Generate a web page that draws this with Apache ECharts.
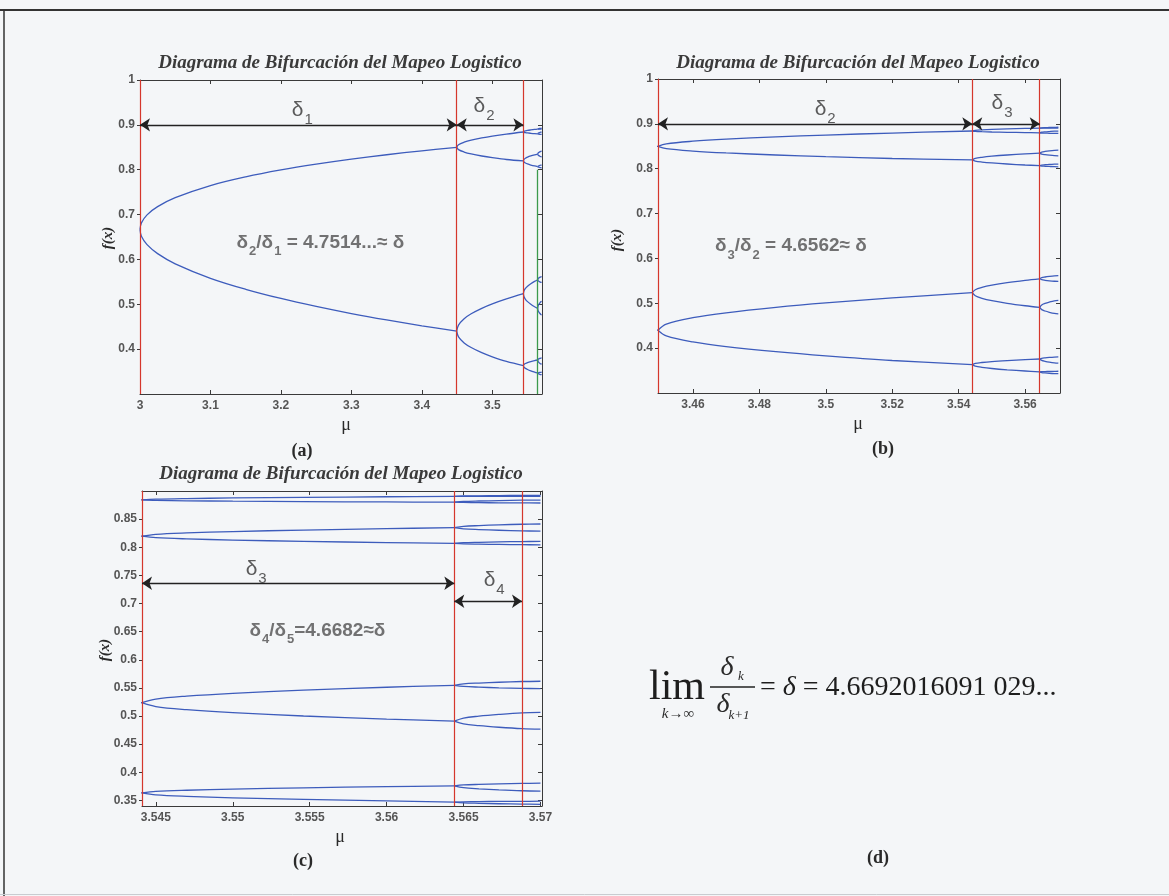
<!DOCTYPE html>
<html>
<head>
<meta charset="utf-8">
<script src="https://cdn.jsdelivr.net/npm/echarts@6/dist/echarts.min.js"></script>
<style>
  html, body { margin: 0; padding: 0; background: #f4f6f8; }
  #chart { width: 1169px; height: 896px; }
</style>
</head>
<body>
<div id="chart"></div>
<script>
// Period-doubling parameters mu_1 ... mu_5 of the logistic map
const muBifurcation = [3.0, 3.4495, 3.5441, 3.5644, 3.5688];

// Stable orbit branches, each as [mu, x] pairs
const period2 = [
  [[3.0,0.6667],[3.002,0.6815],[3.01,0.6994],[3.025,0.7177],[3.05,0.7377],[3.1,0.7646],[3.15,0.7840],[3.2,0.7995],[3.25,0.8124],[3.3,0.8236],[3.35,0.8334],[3.4,0.8421],[3.4495,0.8499]],
  [[3.0,0.6667],[3.002,0.6516],[3.01,0.6329],[3.025,0.6129],[3.05,0.5902],[3.1,0.5580],[3.15,0.5335],[3.2,0.5130],[3.25,0.4953],[3.3,0.4794],[3.35,0.4651],[3.4,0.4520],[3.4495,0.4400]]
];

const period4 = [
  [[3.4495,0.4400],[3.452,0.4273],[3.46,0.4139],[3.47,0.4036],[3.485,0.3921],[3.5,0.3828],[3.52,0.3725],[3.5441,0.3633]],
  [[3.4495,0.4400],[3.452,0.4536],[3.46,0.4678],[3.47,0.4788],[3.485,0.4910],[3.5,0.5009],[3.52,0.5119],[3.5441,0.5236]],
  [[3.4495,0.8499],[3.452,0.8448],[3.46,0.8394],[3.47,0.8352],[3.485,0.8306],[3.5,0.8269],[3.52,0.8228],[3.5441,0.8198]],
  [[3.4495,0.8499],[3.452,0.8555],[3.46,0.8613],[3.47,0.8659],[3.485,0.8709],[3.5,0.8750],[3.52,0.8795],[3.5441,0.8841]]
];

const period8 = [
  [[3.5441,0.3633],[3.545,0.3599],[3.547,0.3572],[3.550,0.3546],[3.5546,0.3517],[3.560,0.3490],[3.5644,0.3470]],
  [[3.5441,0.3633],[3.545,0.3659],[3.547,0.3680],[3.550,0.3701],[3.5546,0.3723],[3.560,0.3744],[3.5644,0.3758]],
  [[3.5441,0.5236],[3.545,0.5167],[3.547,0.5112],[3.550,0.5059],[3.5546,0.5000],[3.560,0.4945],[3.5644,0.4908]],
  [[3.5441,0.5236],[3.545,0.5301],[3.547,0.5353],[3.550,0.5403],[3.5546,0.5459],[3.560,0.5511],[3.5644,0.5546]],
  [[3.5441,0.8198],[3.545,0.8171],[3.547,0.8149],[3.550,0.8128],[3.5546,0.8105],[3.560,0.8083],[3.5644,0.8069]],
  [[3.5441,0.8198],[3.545,0.8230],[3.547,0.8255],[3.550,0.8279],[3.5546,0.8306],[3.560,0.8331],[3.5644,0.8348]],
  [[3.5441,0.8841],[3.545,0.8833],[3.547,0.8826],[3.550,0.8819],[3.5546,0.8812],[3.560,0.8805],[3.5644,0.8801]],
  [[3.5441,0.8841],[3.545,0.8854],[3.547,0.8865],[3.550,0.8876],[3.5546,0.8887],[3.560,0.8898],[3.5644,0.8905]]
];

const period16 = [
  [[3.5644,0.3470],[3.5650,0.3456],[3.5660,0.3448],[3.5673,0.3440],[3.5688,0.3433],[3.5700,0.3430]],
  [[3.5644,0.3470],[3.5650,0.3475],[3.5660,0.3478],[3.5673,0.3481],[3.5688,0.3483],[3.5700,0.3485]],
  [[3.5644,0.3758],[3.5650,0.3726],[3.5660,0.3706],[3.5673,0.3687],[3.5688,0.3671],[3.5700,0.3665]],
  [[3.5644,0.3758],[3.5650,0.3774],[3.5660,0.3784],[3.5673,0.3793],[3.5688,0.3801],[3.5700,0.3805]],
  [[3.5644,0.4908],[3.5650,0.4859],[3.5660,0.4828],[3.5673,0.4800],[3.5688,0.4775],[3.5700,0.4765]],
  [[3.5644,0.4908],[3.5650,0.4963],[3.5660,0.4997],[3.5673,0.5028],[3.5688,0.5056],[3.5700,0.5065]],
  [[3.5644,0.5546],[3.5650,0.5526],[3.5660,0.5513],[3.5673,0.5501],[3.5688,0.5491],[3.5700,0.5487]],
  [[3.5644,0.5546],[3.5650,0.5571],[3.5660,0.5586],[3.5673,0.5600],[3.5688,0.5613],[3.5700,0.5618]],
  [[3.5644,0.8069],[3.5650,0.8060],[3.5660,0.8055],[3.5673,0.8050],[3.5688,0.8045],[3.5700,0.8043]],
  [[3.5644,0.8069],[3.5650,0.8081],[3.5660,0.8088],[3.5673,0.8095],[3.5688,0.8101],[3.5700,0.8104]],
  [[3.5644,0.8348],[3.5650,0.8327],[3.5660,0.8314],[3.5673,0.8302],[3.5688,0.8291],[3.5700,0.8287]],
  [[3.5644,0.8348],[3.5650,0.8371],[3.5660,0.8385],[3.5673,0.8398],[3.5688,0.8409],[3.5700,0.8413]],
  [[3.5644,0.8801],[3.5650,0.8796],[3.5660,0.8793],[3.5673,0.8790],[3.5688,0.8788],[3.5700,0.8787]],
  [[3.5644,0.8801],[3.5650,0.8814],[3.5660,0.8822],[3.5673,0.8829],[3.5688,0.8836],[3.5700,0.8838]],
  [[3.5644,0.8905],[3.5650,0.8905],[3.5660,0.8905],[3.5673,0.8904],[3.5688,0.8904],[3.5700,0.8904]],
  [[3.5644,0.8905],[3.5650,0.8911],[3.5660,0.8915],[3.5673,0.8919],[3.5688,0.8922],[3.5700,0.8924]]
];

// Tick values of each panel
const ticksAx = [3, 3.1, 3.2, 3.3, 3.4, 3.5];
const ticksAy = [0.4, 0.5, 0.6, 0.7, 0.8, 0.9, 1];
const ticksBx = [3.46, 3.48, 3.5, 3.52, 3.54, 3.56];
const ticksBy = [0.4, 0.5, 0.6, 0.7, 0.8, 0.9, 1];
const ticksCx = [3.545, 3.55, 3.555, 3.56, 3.565, 3.57];
const ticksCy = [0.35, 0.4, 0.45, 0.5, 0.55, 0.6, 0.65, 0.7, 0.75, 0.8, 0.85];

// Feigenbaum ratios shown in each panel
const ratioA = '4.7514...';
const ratioB = '4.6562';
const ratioC = '4.6682';

const titleText = 'Diagrama de Bifurcación del Mapeo Logistico';

const BLUE = '#3d5cbc';
const RED = '#d5372c';
const GREEN = '#3c9a4c';
const AXIS = '#3a3a3a';
const TICK_TXT = '#555';

const panels = [
  { grid: { left: 140, top: 80, width: 402, height: 314 }, x: [3.0, 3.5705], y: [0.3, 1], xt: ticksAx, yt: ticksAy },
  { grid: { left: 658, top: 79, width: 402, height: 314 }, x: [3.4495, 3.5705], y: [0.3, 1], xt: ticksBx, yt: ticksBy },
  { grid: { left: 142, top: 491, width: 400, height: 315 }, x: [3.5441, 3.5701], y: [0.34, 0.9], xt: ticksCx, yt: ticksCy }
];

const fmt = v => String(+(+v).toFixed(3));
const tickLabel = { fontFamily: 'Liberation Sans', fontWeight: 'bold', fontSize: 12, color: TICK_TXT };

const grid = [], xAxis = [], yAxis = [], series = [];
panels.forEach((p, i) => {
  grid.push(Object.assign({ containLabel: false }, p.grid));
  // bottom and top x axes
  xAxis.push({
    type: 'value', gridIndex: i, min: p.x[0], max: p.x[1], position: 'bottom',
    axisLine: { show: true, onZero: false, lineStyle: { color: AXIS, width: 1 } },
    axisTick: { show: true, inside: true, length: 4, customValues: p.xt, lineStyle: { color: AXIS } },
    axisLabel: Object.assign({ customValues: p.xt, margin: 6, formatter: fmt }, tickLabel),
    splitLine: { show: false }
  });
  xAxis.push({
    type: 'value', gridIndex: i, min: p.x[0], max: p.x[1], position: 'top',
    axisLine: { show: true, onZero: false, lineStyle: { color: AXIS, width: 1 } },
    axisTick: { show: true, inside: true, length: 4, customValues: p.xt, lineStyle: { color: AXIS } },
    axisLabel: { show: false }, splitLine: { show: false }
  });
  // left and right y axes
  yAxis.push({
    type: 'value', gridIndex: i, min: p.y[0], max: p.y[1], position: 'left',
    axisLine: { show: true, onZero: false, lineStyle: { color: AXIS, width: 1 } },
    axisTick: { show: true, inside: false, length: 3, customValues: p.yt, lineStyle: { color: AXIS } },
    axisLabel: Object.assign({ customValues: p.yt, margin: 5, formatter: fmt }, tickLabel),
    splitLine: { show: false }
  });
  yAxis.push({
    type: 'value', gridIndex: i, min: p.y[0], max: p.y[1], position: 'right',
    axisLine: { show: true, onZero: false, lineStyle: { color: AXIS, width: 1 } },
    axisTick: { show: true, inside: true, length: 4, customValues: p.yt, lineStyle: { color: AXIS } },
    axisLabel: { show: false }, splitLine: { show: false }
  });

  [].concat(period2, period4, period8, period16).forEach(branch => {
    series.push({
      type: 'line', xAxisIndex: 2 * i, yAxisIndex: 2 * i, data: branch,
      showSymbol: false, symbol: 'none', smooth: 0.35,
      clip: true, silent: true, animation: false,
      lineStyle: { color: BLUE, width: 1.3 }, z: 3
    });
  });
});

// rich-text styles for delta labels (subscripts dropped below the baseline)
function deltaRich(size, weight, color) {
  const sub = Math.round(size * 0.7);
  return {
    d: { fontFamily: 'Liberation Sans', fontSize: size, fontWeight: weight, color: color, lineHeight: size + 2, verticalAlign: 'top' },
    s: { fontFamily: 'Liberation Sans', fontSize: sub, fontWeight: weight, color: color,
         lineHeight: sub, padding: [Math.round(size * 0.62), 0, 0, 1], verticalAlign: 'top' }
  };
}
const deltaStyle = deltaRich(21, 'normal', '#333');
const ratioStyle = deltaRich(19, 'bold', '#505050');

function delta(k) { return '{d|δ}{s|' + k + '}'; }
function ratio(a, b, value, spaced) {
  const eq = spaced ? ' = ' : '=';
  const approx = spaced ? '≈ δ' : '≈δ';
  return '{d|δ}{s|' + a + '}{d|/δ}{s|' + b + '}{d|' + eq + value + approx + '}';
}

// Vertical bifurcation lines, arrows and labels for one panel
function annotate(i, reds, green, arrows, texts) {
  const y0 = panels[i].y[0], y1 = panels[i].y[1];
  const lines = reds.map(m => [
    { coord: [m, y0], lineStyle: { color: RED, width: 1.2, type: 'solid' } },
    { coord: [m, y1] }
  ]);
  if (green !== null) {
    lines.push([{ coord: [green, y0], lineStyle: { color: GREEN, width: 1.3, type: 'solid' } }, { coord: [green, 0.8] }]);
  }
  const arrowLines = arrows.map(a => [
    { coord: [a.from, a.y], lineStyle: { color: '#222', width: 1.4, type: 'solid' } },
    { coord: [a.to, a.y] }
  ]);
  series.push({
    type: 'line', xAxisIndex: 2 * i, yAxisIndex: 2 * i, data: [], silent: true, animation: false, z: 4,
    markLine: { silent: true, animation: false, symbol: 'none', precision: 6, label: { show: false }, data: lines }
  });
  series.push({
    type: 'line', xAxisIndex: 2 * i, yAxisIndex: 2 * i, data: [], silent: true, animation: false, z: 5,
    markLine: { silent: true, animation: false, symbol: ['arrow', 'arrow'], symbolSize: 10, precision: 6,
      itemStyle: { color: '#222' }, label: { show: false }, data: arrowLines }
  });
  series.push({
    type: 'scatter', xAxisIndex: 2 * i, yAxisIndex: 2 * i, silent: true, animation: false, z: 6,
    symbolSize: 1, itemStyle: { color: 'rgba(0,0,0,0)' },
    data: texts.map(t => ({
      value: [t.x, t.y],
      label: { show: true, position: 'inside', offset: t.offset || [0, 0], formatter: t.text, rich: t.rich }
    }))
  });
}

const mb = muBifurcation;
annotate(0, [mb[0], mb[1], mb[2]], mb[3],
  [{ from: mb[0], to: mb[1], y: 0.9 }, { from: mb[1], to: mb[2], y: 0.9 }],
  [
    { x: (mb[0] + mb[1]) / 2, y: 0.9, offset: [4, -14], text: delta(1), rich: deltaStyle },
    { x: (mb[1] + mb[2]) / 2, y: 0.9, offset: [-6, -18], text: delta(2), rich: deltaStyle },
    { x: 3.256, y: 0.642, offset: [0, 3], text: ratio(2, 1, ratioA, true), rich: ratioStyle }
  ]);
annotate(1, [mb[1], mb[2], mb[3]], null,
  [{ from: mb[1], to: mb[2], y: 0.9 }, { from: mb[2], to: mb[3], y: 0.9 }],
  [
    { x: (mb[1] + mb[2]) / 2, y: 0.9, offset: [10, -14], text: delta(2), rich: deltaStyle },
    { x: (mb[2] + mb[3]) / 2, y: 0.9, offset: [-4, -20], text: delta(3), rich: deltaStyle },
    { x: 3.4895, y: 0.632, offset: [0, 3], text: ratio(3, 2, ratioB, true), rich: ratioStyle }
  ]);
annotate(2, [mb[2], mb[3], mb[4]], null,
  [{ from: mb[2], to: mb[3], y: 0.736 }, { from: mb[3], to: mb[4], y: 0.704 }],
  [
    { x: (mb[2] + mb[3]) / 2, y: 0.736, offset: [-42, -13], text: delta(3), rich: deltaStyle },
    { x: (mb[3] + mb[4]) / 2, y: 0.704, offset: [6, -20], text: delta(4), rich: deltaStyle },
    { x: 3.5555, y: 0.655, offset: [0, 3], text: ratio(4, 5, ratioC, false), rich: ratioStyle }
  ]);

// Page texts: titles, axis names, panel captions and the limit formula
const serif = 'Liberation Serif';
function txt(x, y, text, font, extra, fill) {
  return Object.assign({
    type: 'text', x: x, y: y, silent: true,
    style: { text: text, font: font, fill: fill || '#2a2a2a', textAlign: 'center', textVerticalAlign: 'middle' }
  }, extra || {});
}
const titleFont = 'italic bold 19px ' + serif;
const graphic = [
  { type: 'line', silent: true, shape: { x1: 0, y1: 10, x2: 1169, y2: 10 }, style: { stroke: '#333', lineWidth: 2 } },
  { type: 'line', silent: true, shape: { x1: 4, y1: 10, x2: 4, y2: 896 }, style: { stroke: '#333', lineWidth: 1.5 } },
  { type: 'line', silent: true, shape: { x1: 0, y1: 894.5, x2: 1169, y2: 894.5 }, style: { stroke: '#c9ccd0', lineWidth: 1 } },

  txt(340, 63, titleText, titleFont, null, '#3a3a3a'),
  txt(858, 63, titleText, titleFont, null, '#3a3a3a'),
  txt(341, 474, titleText, titleFont, null, '#3a3a3a'),

  txt(346, 425, 'μ', '18px ' + serif),
  txt(858, 424, 'μ', '18px ' + serif),
  txt(340, 837, 'μ', '18px ' + serif),

  txt(108, 238, 'f(x)', 'italic bold 15px ' + serif, { rotation: Math.PI / 2 }),
  txt(617, 240, 'f(x)', 'italic bold 15px ' + serif, { rotation: Math.PI / 2 }),
  txt(105, 650, 'f(x)', 'italic bold 15px ' + serif, { rotation: Math.PI / 2 }),

  txt(302, 451, '(a)', 'bold 18px ' + serif),
  txt(883, 449, '(b)', 'bold 18px ' + serif),
  txt(303, 861, '(c)', 'bold 18px ' + serif),
  txt(878, 858, '(d)', 'bold 18px ' + serif),

  // lim_{k->inf} delta_k / delta_{k+1} = delta = 4.6692016091 029...
  txt(677, 688, 'lim', '42px ' + serif, null, '#1e1e1e'),
  txt(678, 714, 'k→∞', 'italic 15px ' + serif),
  txt(727, 668, 'δ', 'italic 28px ' + serif),
  txt(741, 677, 'k', 'italic 13px ' + serif),
  { type: 'line', silent: true, shape: { x1: 710, y1: 687, x2: 755, y2: 687 }, style: { stroke: '#222', lineWidth: 1.4 } },
  txt(723, 705, 'δ', 'italic 28px ' + serif),
  txt(739, 716, 'k+1', 'italic 13px ' + serif),
  {
    type: 'text', x: 760, y: 688, silent: true,
    style: {
      text: '{n|= }{i|δ}{n| = 4.6692016091 029...}',
      textVerticalAlign: 'middle', textAlign: 'left',
      rich: {
        n: { fontFamily: serif, fontSize: 28, fill: '#1e1e1e' },
        i: { fontFamily: serif, fontStyle: 'italic', fontSize: 28, fill: '#1e1e1e' }
      }
    }
  }
];

const chart = echarts.init(document.getElementById('chart'), null, { renderer: 'canvas' });
chart.setOption({
  backgroundColor: '#f4f6f8',
  animation: false,
  grid: grid,
  xAxis: xAxis,
  yAxis: yAxis,
  series: series,
  graphic: graphic
});
</script>
</body>
</html>
